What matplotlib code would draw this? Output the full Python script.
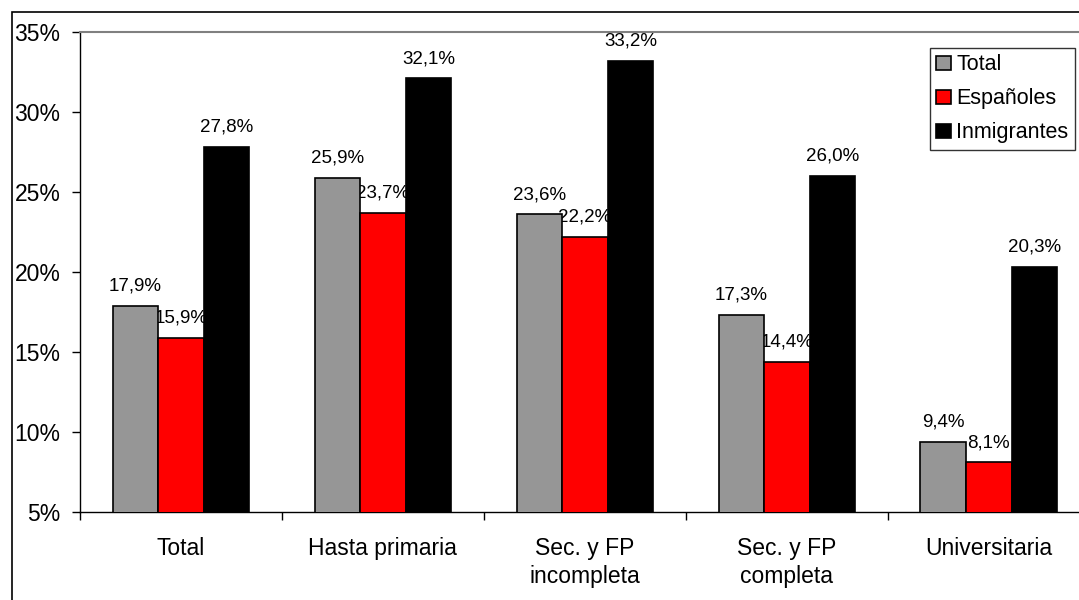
import matplotlib
matplotlib.use("Agg")
import matplotlib.pyplot as plt
import numpy as np
from matplotlib.patches import Rectangle

categories = ["Total", "Hasta primaria", "Sec. y FP\nincompleta", "Sec. y FP\ncompleta", "Universitaria"]
total = [17.9, 25.9, 23.6, 17.3, 9.4]
espanoles = [15.9, 23.7, 22.2, 14.4, 8.1]
inmigrantes = [27.8, 32.1, 33.2, 26.0, 20.3]
series_names = ["Total", "Españoles", "Inmigrantes"]
colors = ["#969696", "#ff0000", "#000000"]
yticks = [5, 10, 15, 20, 25, 30, 35]

plt.rcParams['font.family'] = ['Liberation Sans', 'DejaVu Sans']

W, H = 1079, 600
fig = plt.figure(figsize=(W / 100, H / 100), dpi=100)
ax = fig.add_axes([80 / W, 88 / H, 1009.75 / W, 480 / H])

x = np.arange(len(categories))
bw = 0.2255
for i, (vals, name, c) in enumerate(zip([total, espanoles, inmigrantes], series_names, colors)):
    pos = x + (i - 1) * bw
    ax.bar(pos, vals, width=bw, color=c, edgecolor="black", linewidth=1.2, label=name, zorder=3)
    for px, v in zip(pos, vals):
        ax.annotate(f"{v:.1f}%".replace(".", ","), (px, v), xytext=(0, 11),
                    textcoords="offset points", ha="center", va="baseline",
                    fontsize=13.5, color="black", zorder=2)

ax.set_xlim(-0.5, len(categories) - 0.5)
ax.set_ylim(5, 35)
ax.set_yticks(yticks)
ax.set_yticklabels([f"{t}%" for t in yticks], fontsize=16.5)
ax.set_xticks(x)
ax.set_xticklabels(categories, fontsize=16.5, linespacing=1.25)
ax.tick_params(axis="x", length=0, pad=18)
ax.tick_params(axis="y", length=6, width=1, direction="out", pad=8)
ax.set_xticks(np.arange(len(categories) + 1) - 0.5, minor=True)
ax.tick_params(axis="x", which="minor", length=6, width=1, direction="out")

for s in ["left", "bottom"]:
    ax.spines[s].set_color("black")
    ax.spines[s].set_linewidth(1.0)
ax.spines["top"].set_color("#808080")
ax.spines["top"].set_linewidth(1.5)
ax.spines["right"].set_visible(False)

leg = ax.legend(loc="upper right", bbox_to_anchor=(1075 / W, 1 - 48 / H),
                bbox_transform=fig.transFigure, frameon=True, fancybox=False,
                edgecolor="black", fontsize=15.5, handlelength=0.7, handleheight=0.6,
                handletextpad=0.25, labelspacing=0.6, borderpad=0.3, borderaxespad=0)
leg.get_frame().set_linewidth(1.0)
for h in leg.legend_handles:
    h.set_edgecolor("black")
    h.set_linewidth(1.2)

fig.patches.append(Rectangle((12 / W, -0.1), 1.2, 1 - 12 / H + 0.1, transform=fig.transFigure,
                             fill=False, edgecolor="black", linewidth=1.2))

fig.savefig("out.png", dpi=100)
